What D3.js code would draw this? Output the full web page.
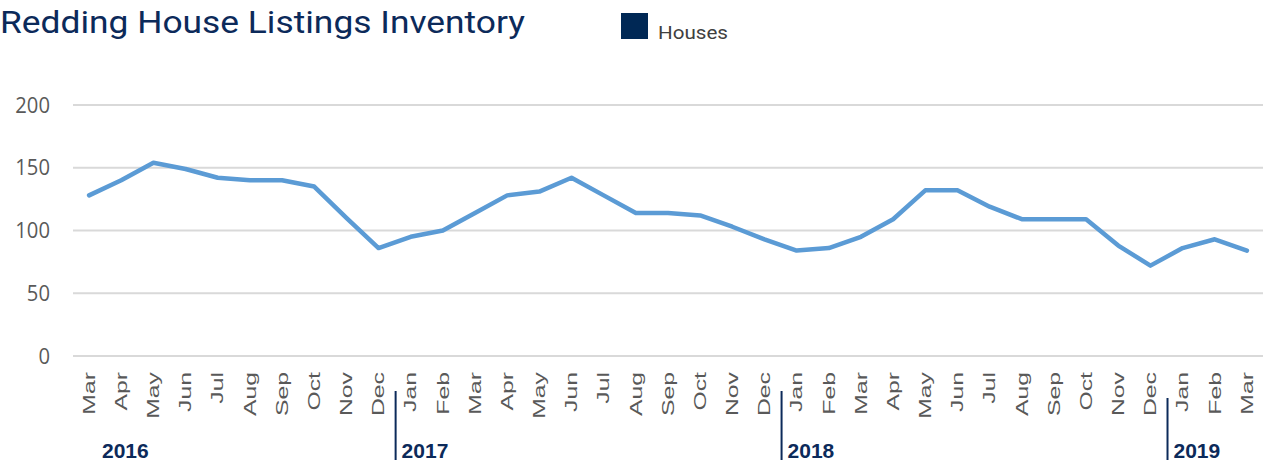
<!DOCTYPE html>
<html>
<head>
<meta charset="utf-8">
<script src="https://cdn.jsdelivr.net/npm/d3@7"></script>
<style>
  body { margin: 0; background: #fff; }
  svg { display: block; }
</style>
</head>
<body>
<svg id="chart"></svg>
<script>
const months = ["Mar","Apr","May","Jun","Jul","Aug","Sep","Oct","Nov","Dec",
  "Jan","Feb","Mar","Apr","May","Jun","Jul","Aug","Sep","Oct","Nov","Dec",
  "Jan","Feb","Mar","Apr","May","Jun","Jul","Aug","Sep","Oct","Nov","Dec",
  "Jan","Feb","Mar"];
const houses = [128, 140, 154, 149, 142, 140, 140, 135, 110, 86,
  95, 100, 114, 128, 131, 142, 128, 114, 114, 112, 103, 93,
  84, 86, 95, 109, 132, 132, 119, 109, 109, 109, 88, 72,
  86, 93, 84];
const years = ["2016", "2017", "2018", "2019"];
const yearStart = [0, 10, 22, 34]; // index of first month of each year
const yTicks = [0, 50, 100, 150, 200];

const width = 1270, height = 460;
const margin = { top: 105, right: 7, bottom: 104, left: 73 };
const innerWidth = width - margin.left - margin.right;
const innerHeight = height - margin.top - margin.bottom;

const svg = d3.select("#chart").attr("width", width).attr("height", height);
const g = svg.append("g").attr("transform", `translate(${margin.left},${margin.top})`);

const x = d3.scaleBand().domain(d3.range(months.length)).range([0, innerWidth]);
const y = d3.scaleLinear().domain([0, 200]).range([innerHeight, 0]);

// gridlines
g.selectAll(".grid").data(yTicks).join("line")
  .attr("x1", 0).attr("x2", innerWidth)
  .attr("y1", d => y(d)).attr("y2", d => y(d))
  .attr("stroke", "#d9d9d9").attr("stroke-width", 2);

// y axis (labels a bit narrow, like the original)
const ySx = 0.92;
const yAxis = g.append("g").call(d3.axisLeft(y).tickValues(yTicks).tickSize(0));
yAxis.select(".domain").remove();
yAxis.selectAll("text")
  .attr("font-family", "'Open Sans', sans-serif").attr("font-size", 22).attr("fill", "#595959")
  .attr("x", -23 / ySx)
  .attr("transform", `scale(${ySx},1)`);

// x axis, month labels rotated and stretched along their length
const xSx = 1.55;
const xAxis = g.append("g").attr("transform", `translate(0,${innerHeight})`)
  .call(d3.axisBottom(x).tickFormat(i => months[i]).tickSize(0));
xAxis.select(".domain").remove();
xAxis.selectAll("text")
  .attr("font-family", "'Liberation Sans', Arial, sans-serif").attr("font-size", 16).attr("fill", "#595959")
  .attr("transform", `rotate(-90) scale(${xSx},1)`)
  .attr("text-anchor", "end")
  .attr("dy", "0.36em")
  .attr("x", -16 / xSx).attr("y", 0);

// line
const line = d3.line().x((d, i) => x(i) + x.bandwidth() / 2).y(d => y(d));
g.append("path").datum(houses)
  .attr("d", line)
  .attr("fill", "none")
  .attr("stroke", "#5b9bd5")
  .attr("stroke-width", 4.5)
  .attr("stroke-linejoin", "round")
  .attr("stroke-linecap", "round");

// year separators and labels
const yearG = g.append("g").attr("transform", `translate(0,${innerHeight})`);
yearG.selectAll(".sep").data(yearStart.slice(1)).join("line")
  .attr("x1", d => x(d) + 1).attr("x2", d => x(d) + 1)
  .attr("y1", (d, i) => i === 2 ? 42 : 35).attr("y2", 104)
  .attr("stroke", "#0c2a5a").attr("stroke-width", 2);
yearG.selectAll(".year").data(years).join("text")
  .attr("x", (d, i) => i === 0 ? x(yearStart[i]) + 29 : x(yearStart[i]) + 7)
  .attr("y", 102)
  .attr("font-family", "'Liberation Sans', Arial, sans-serif")
  .attr("font-weight", "bold").attr("font-size", 21).attr("fill", "#0c2a5a")
  .text(d => d);

// title
svg.append("text")
  .attr("x", 0).attr("y", 33)
  .attr("font-family", "Roboto, sans-serif").attr("font-size", 32)
  .attr("fill", "#0c2a5a")
  .attr("textLength", 525).attr("lengthAdjust", "spacingAndGlyphs")
  .text("Redding House Listings Inventory");

// legend
svg.append("rect").attr("x", 621).attr("y", 13).attr("width", 27).attr("height", 26).attr("fill", "#002855");
svg.append("text").attr("x", 658).attr("y", 39)
  .attr("font-family", "Roboto, sans-serif").attr("font-size", 19).attr("fill", "#404040")
  .attr("textLength", 70).attr("lengthAdjust", "spacingAndGlyphs")
  .text("Houses");
</script>
</body>
</html>
